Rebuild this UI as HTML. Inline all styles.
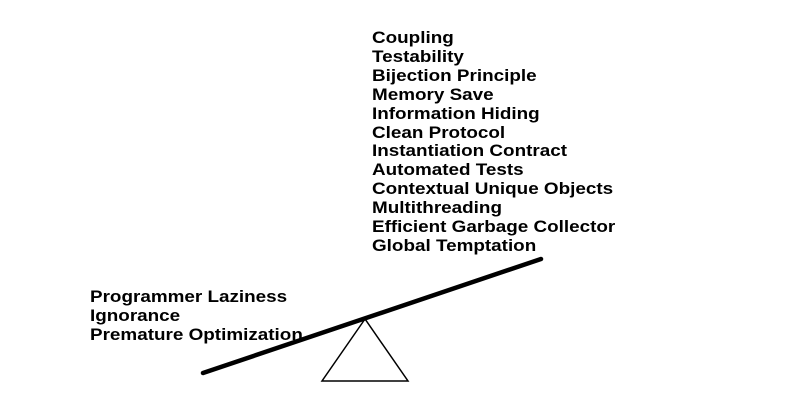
<!DOCTYPE html>
<html><head><style>
body{margin:0;width:800px;height:400px;background:#fff;overflow:hidden;position:relative}
.t{position:absolute;font:bold 17px "Liberation Sans",sans-serif;line-height:18.9px;color:#000;white-space:pre;transform:scaleX(1.11);transform-origin:0 0}
</style></head><body>
<svg width="800" height="400" style="position:absolute;left:0;top:0">
<polygon points="365,319 322,381 408,381" fill="#fff" stroke="#000" stroke-width="1.5"/>
<line x1="203" y1="373" x2="541" y2="259" stroke="#000" stroke-width="4.5" stroke-linecap="round"/>
</svg>
<div class="t" style="left:372px;top:29px">Coupling
Testability
Bijection Principle
Memory Save
Information Hiding
Clean Protocol
Instantiation Contract
Automated Tests
Contextual Unique Objects
Multithreading
Efficient Garbage Collector
Global Temptation</div>
<div class="t" style="left:90px;top:288px">Programmer Laziness
Ignorance
Premature Optimization</div>
</body></html>
